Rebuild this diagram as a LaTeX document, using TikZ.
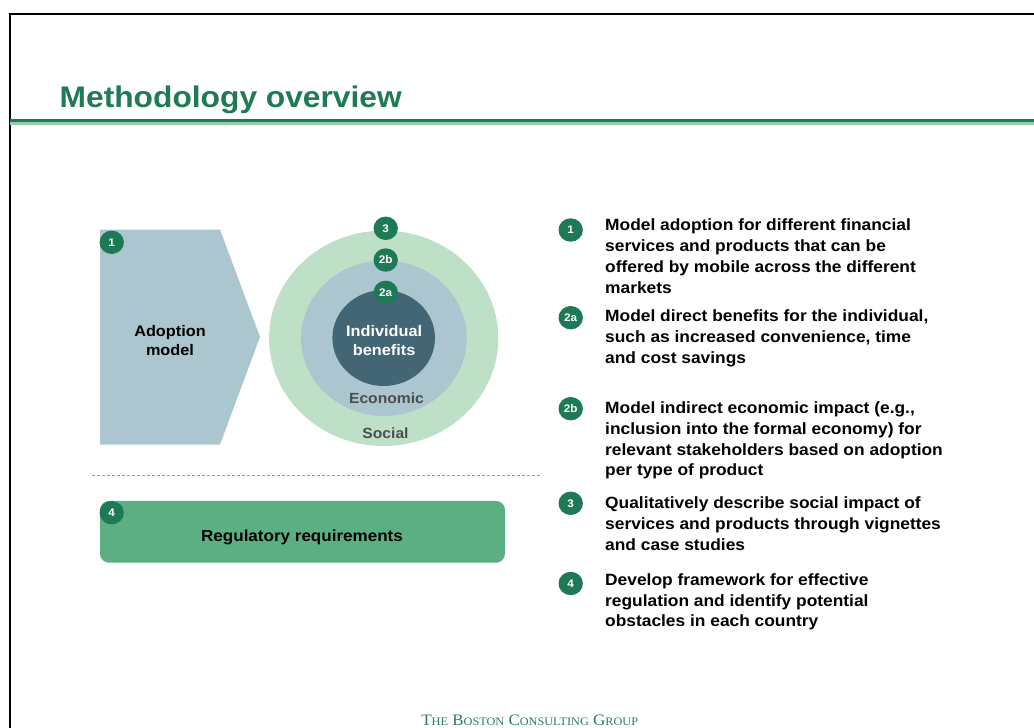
\documentclass[tikz,border=0pt]{standalone}
\usepackage{fontspec}
\setmainfont{Liberation Sans}[FakeStretch=1.065]
\newfontfamily\footfont{Liberation Serif}[FakeStretch=1.065]
\usetikzlibrary{shapes.geometric}
\definecolor{bcgdark}{HTML}{1E7A56}
\definecolor{titlegreen}{HTML}{1F7A55}
\definecolor{hdrlight}{HTML}{96CCA8}
\definecolor{chev}{HTML}{ABC6CF}
\definecolor{outerring}{HTML}{BEE0C6}
\definecolor{midring}{HTML}{ABC6CF}
\definecolor{innerc}{HTML}{426674}
\definecolor{regbox}{HTML}{5CAF83}
\definecolor{greytext}{HTML}{4D4D4D}
\definecolor{dashgrey}{HTML}{9A9A9A}
\definecolor{footgreen}{HTML}{2E7D5B}
\tikzset{
  badge/.style={ellipse, fill=bcgdark, text=white, inner sep=0pt,
    minimum width=24.4pt, minimum height=23.4pt,
    font=\bfseries\fontsize{11}{11}\selectfont},
  lbl/.style={inner sep=0pt, anchor=base, font=\bfseries\fontsize{15.3}{15.3}\selectfont},
  ringlbl/.style={inner sep=0pt, anchor=base, text=greytext, font=\bfseries\fontsize{14.7}{14.7}\selectfont},
  item/.style={inner sep=0pt, anchor=north west, align=left,
    font=\bfseries\fontsize{16.3}{20.8}\selectfont},
}
\begin{document}
\begin{tikzpicture}[x=1pt,y=-1pt]
\useasboundingbox (0,0) rectangle (1034,728);
\fill[white] (0,0) rectangle (1034,728);
% frame
\draw[line width=2.2pt] (9.8,728) -- (9.8,14) -- (1034,14);
% header rule
\fill[bcgdark] (9.8,119.3) rectangle (1034,122);
\fill[hdrlight] (9.8,122) rectangle (1034,124.7);
% title
\node[anchor=base west, inner sep=0pt, text=titlegreen,
  font=\bfseries\fontsize{29.8}{29.8}\selectfont] (title) at (59.5,107.3) {Methodology overview};

% adoption chevron
\fill[chev] (100,229.5) -- (220,229.5) -- (260,337) -- (220,444.5) -- (100,444.5) -- cycle;
\node[lbl] (adopt1) at (170,336) {Adoption};
\node[lbl] (adopt2) at (170,355.7) {model};
\node[badge] (b1) at (111.7,242.3) {1};

% rings
\node[ellipse, fill=outerring, inner sep=0pt, minimum width=229.2pt, minimum height=215.4pt] (outer) at (383.7,338.3) {};
\node[ellipse, fill=midring, inner sep=0pt, minimum width=165.6pt, minimum height=155.4pt] (mid) at (383.9,338.2) {};
\node[ellipse, fill=innerc, inner sep=0pt, minimum width=102.6pt, minimum height=96pt] (inner) at (383.7,338) {};
\node[lbl, text=white] (ind1) at (384.2,336) {Individual};
\node[lbl, text=white] (ind2) at (384.2,355.7) {benefits};
\node[ringlbl] (econ) at (386.5,403.3) {Economic};
\node[ringlbl] (soc) at (385.5,438.7) {Social};
\node[badge] (b3) at (385.7,228.3) {3};
\node[badge] (b2b) at (385.7,260) {2b};
\node[badge] (b2a) at (385.7,292.3) {2a};

% separator
\draw[dashgrey, line width=0.9pt, dash pattern=on 3pt off 2pt] (92,475) -- (540,475);

% regulatory box
\node[fill=regbox, rounded corners=9pt, inner sep=0pt, minimum width=405pt, minimum height=61.7pt] (reg) at (302.5,531.8) {};
\node[lbl, font=\bfseries\fontsize{16}{16}\selectfont] (regtxt) at (302,541) {Regulatory requirements};
\node[badge] (b4) at (111.7,512.7) {4};

% right list
\node[badge] (r1) at (570.7,230) {1};
\node[item] (t1) at (605,230.7-14.56) {\strut Model adoption for different financial\\services and products that can be\\offered by mobile across the different\\markets};
\node[badge] (r2a) at (570.7,317.7) {2a};
\node[item] (t2a) at (605,321.7-14.56) {\strut Model direct benefits for the individual,\\such as increased convenience, time\\and cost savings};
\node[badge] (r2b) at (570.7,408.7) {2b};
\node[item] (t2b) at (605,413.3-14.56) {\strut Model indirect economic impact (e.g.,\\inclusion into the formal economy) for\\relevant stakeholders based on adoption\\per type of product};
\node[badge] (r3) at (570.7,503.3) {3};
\node[item] (t3) at (605,508.3-14.56) {\strut Qualitatively describe social impact of\\services and products through vignettes\\and case studies};
\node[badge] (r4) at (570.7,583.5) {4};
\node[item] (t4) at (605,585-14.56) {\strut Develop framework for effective\\regulation and identify potential\\obstacles in each country};

% footer
\node[anchor=base, inner sep=0pt, text=footgreen] (foot) at (529.7,725.8)
  {\footfont\fontsize{16}{16}\selectfont T{\fontsize{11.5}{11.5}\selectfont HE} B{\fontsize{11.5}{11.5}\selectfont OSTON} C{\fontsize{11.5}{11.5}\selectfont ONSULTING} G{\fontsize{11.5}{11.5}\selectfont ROUP}};
\end{tikzpicture}
\end{document}
